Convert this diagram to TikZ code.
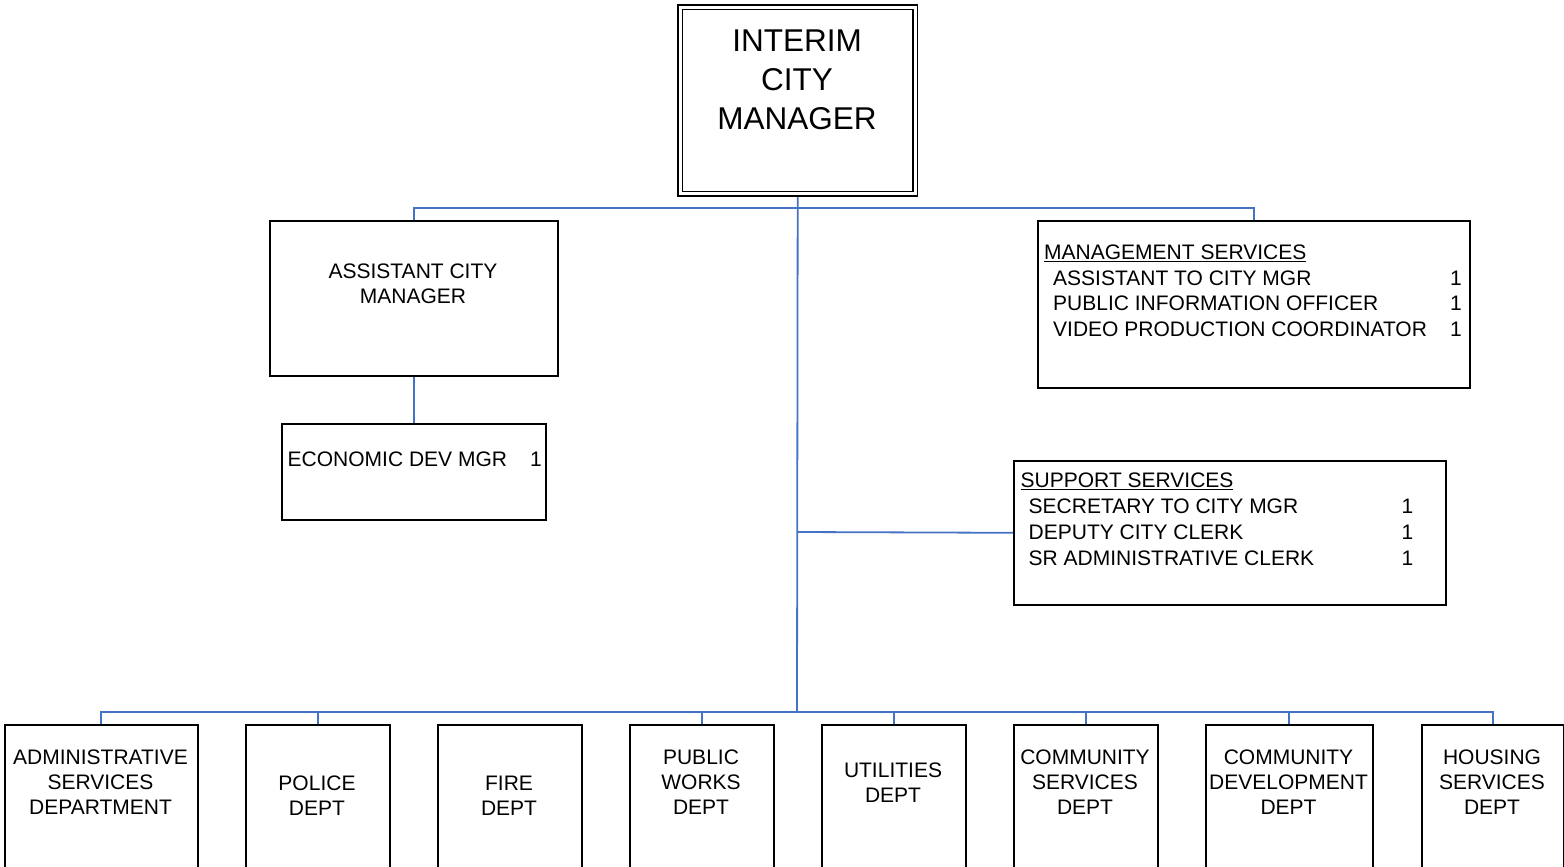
\documentclass[tikz,border=0pt]{standalone}
\usepackage{fontspec}
\setmainfont{Liberation Sans}
\usetikzlibrary{backgrounds}
\definecolor{linkblue}{HTML}{4472C4}
\begin{document}
\begin{tikzpicture}[x=1pt,y=-1pt,
  box/.style={draw=black, line width=1.6pt, fill=white, rectangle, inner sep=0pt, anchor=north west},
  topbox/.style={draw=black, line width=1.4pt, double=white, double distance=3pt, fill=white,
    rectangle, inner sep=0pt, anchor=north west},
  conn/.style={draw=linkblue, line width=1.8pt},
  txt/.style={inner sep=0pt, text=black, font=\fontsize{21}{25}\selectfont},
  rowtxt/.style={txt, anchor=base west},
  deptbox/.style={box, minimum width=144pt, minimum height=200pt}
]
\useasboundingbox (0,0) rectangle (1564,867);
\clip (0,0) rectangle (1564,867);

% ---- boxes ----
\node[topbox, minimum width=235pt, minimum height=186.5pt] (icm) at (679.5,6.5) {};
\node[box, minimum width=288pt, minimum height=155pt] (acm) at (269,220) {};
\node[box, minimum width=264pt, minimum height=96pt] (econ) at (281,423) {};
\node[box, minimum width=432pt, minimum height=167pt] (ms) at (1037,220) {};
\node[box, minimum width=432pt, minimum height=144pt] (ss) at (1013,460) {};

\node[deptbox, minimum width=193pt] (admin) at (4,724) {};
\node[deptbox] (police) at (245,724) {};
\node[deptbox] (fire) at (437,724) {};
\node[deptbox] (pworks) at (629,724) {};
\node[deptbox] (util) at (821,724) {};
\node[deptbox] (commsvc) at (1013,724) {};
\node[deptbox, minimum width=167pt] (commdev) at (1205,724) {};
\node[deptbox, minimum width=142pt] (housing) at (1421,724) {};

% ---- texts ----
\node[inner sep=0pt, align=center, font=\fontsize{31.5}{39}\selectfont] (icmtext) at (797,79.7)
  {INTERIM\\CITY\\MANAGER};
\node[txt, align=center] (acmtext) at (413,284) {ASSISTANT CITY\\MANAGER};
\node[rowtxt] (econtext) at (287.5,466.7) {\makebox[242.5pt][l]{ECONOMIC DEV MGR}1};

\node[rowtxt] (mshead) at (1044,259.3) {\underline{MANAGEMENT SERVICES}};
\node[rowtxt] (msa) at (1053,285) {\makebox[397pt][l]{ASSISTANT TO CITY MGR}1};
\node[rowtxt] (msb) at (1053,310.5) {\makebox[397pt][l]{PUBLIC INFORMATION OFFICER}1};
\node[rowtxt] (msc) at (1053,336) {\makebox[397pt][l]{VIDEO PRODUCTION COORDINATOR}1};

\node[rowtxt] (sshead) at (1020.5,487.3) {\underline{SUPPORT SERVICES}};
\node[rowtxt] (ssa) at (1028.5,513) {\makebox[373pt][l]{SECRETARY TO CITY MGR}1};
\node[rowtxt] (ssb) at (1028.5,539) {\makebox[373pt][l]{DEPUTY CITY CLERK}1};
\node[rowtxt] (ssc) at (1028.5,565) {\makebox[373pt][l]{SR ADMINISTRATIVE CLERK}1};

\node[txt, align=center] (admintext) at (100.5,782.5) {ADMINISTRATIVE\\SERVICES\\DEPARTMENT};
\node[txt, align=center] (policetext) at (317,795.5) {POLICE\\DEPT};
\node[txt, align=center] (firetext) at (509,795.5) {FIRE\\DEPT};
\node[txt, align=center] (pworkstext) at (701,782.5) {PUBLIC\\WORKS\\DEPT};
\node[txt, align=center] (utiltext) at (893,783) {UTILITIES\\DEPT};
\node[txt, align=center] (commsvctext) at (1085,782.5) {COMMUNITY\\SERVICES\\DEPT};
\node[txt, align=center] (commdevtext) at (1288.5,782.5) {COMMUNITY\\DEVELOPMENT\\DEPT};
\node[txt, align=center] (housingtext) at (1492,782.5) {HOUSING\\SERVICES\\DEPT};

% ---- connectors ----
\coordinate (topbus) at (797,208);
\coordinate (ssjoin) at (797,532);
\coordinate (botbus) at (797,712);
\begin{pgfonlayer}{background}
  \draw[conn] (icm.south) -- (botbus);
  \draw[conn] (acm.north) |- (topbus) -| (ms.north);
  \draw[conn] (acm.south) -- (econ.north);
  \draw[conn] (ssjoin) -- (ss.west);
  \draw[conn] (admin.north) |- (botbus) -| (housing.north);
  \draw[conn] (police.north) |- (botbus);
  \draw[conn] (pworks.north) |- (botbus);
  \draw[conn] (util.north) |- (botbus);
  \draw[conn] (commsvc.north) |- (botbus);
  \draw[conn] (commdev.north) |- (botbus);
\end{pgfonlayer}
\end{tikzpicture}
\end{document}
